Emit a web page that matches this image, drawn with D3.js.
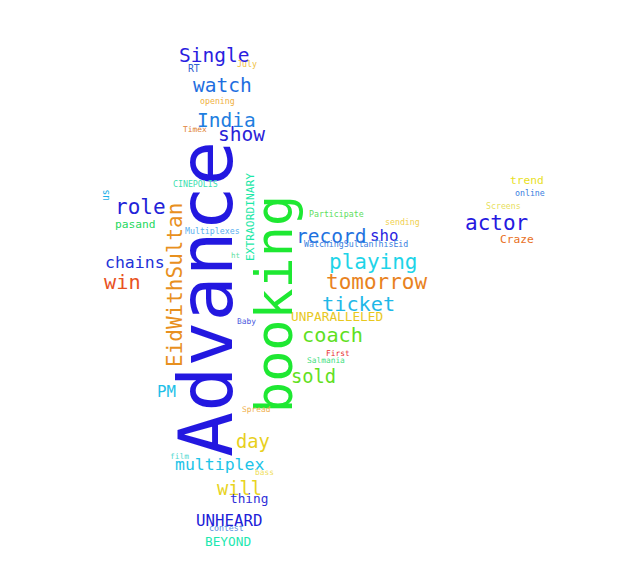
<!DOCTYPE html>
<html>
<head>
<meta charset="utf-8">
<script src="https://cdn.jsdelivr.net/npm/d3@7"></script>
<style>
  body { margin: 0; background: #fff; }
  svg text { font-family: "DejaVu Sans Mono", monospace; }
</style>
</head>
<body>
<svg id="cloud"></svg>
<script>
// words and their weights (word counts)
var words = ["Advance", "booking", "EidWithSultan", "role", "playing", "tomorrow", "actor", "ticket",
  "coach", "win", "Single", "watch", "India", "show", "record", "sold", "day", "will",
  "chains", "multiplex", "UNHEARD", "PM", "sho", "BEYOND", "UNPARALLELED", "thing",
  "EXTRAORDINARY", "pasand", "trend", "Craze", "us", "RT", "online", "WatchingSultanThisEid",
  "Participate", "opening", "sending", "Screens", "contest", "Multiplexes", "Baby", "Spread",
  "First", "Salmania", "CINEPOLIS", "July", "Timex", "film", "bass", "ht"];
var counts = [100, 69, 28, 28, 28, 28, 28, 27,
  27, 27, 26, 26, 26, 26, 26, 25, 25, 25,
  22, 22, 21, 21, 21, 17, 17, 17,
  15, 15, 15, 15, 13, 13, 11, 11,
  11, 11, 11, 11, 11, 11, 10.5, 10.5,
  10.5, 10.5, 11, 11, 10.5, 10.5, 10.5, 10];
var vertical = ["Advance", "booking", "EidWithSultan", "EXTRAORDINARY", "us"];
var palette = ["#2318e0", "#1ee832", "#e8901e", "#2222d8", "#1ed4e8", "#e8821e", "#2618e0", "#1eb8e8",
  "#5ee01e", "#e8521e", "#2a1ee0", "#1e6ee0", "#1e7ee0", "#2a22d8", "#1e72e0", "#62e01e", "#e8d01e", "#e8d41e",
  "#2232d8", "#1ec4e8", "#2020d8", "#1ec0e8", "#2a1ee0", "#1ee8b0", "#e8c81e", "#3030d8",
  "#1ee8a8", "#1ed860", "#e8e01e", "#e8701e", "#1eb0e8", "#3060d0", "#3a80e0", "#3a80e0",
  "#5ee05e", "#f0b040", "#f0d050", "#e8e060", "#5a90e0", "#5ab0f0", "#4a5ae0", "#f0b050",
  "#e83030", "#40e080", "#40e0b0", "#f0c040", "#e08030", "#50d8d0", "#f0e060", "#60e0a0"];

// layout of the cloud: start of each word's baseline, in cloud units
var layoutX = [232, 292, 182, 115, 329, 326, 465, 322,
  302, 104, 179, 193, 197, 218, 296, 291, 236, 217,
  105, 175, 196, 157, 370, 205, 291, 230,
  254, 115, 510, 500, 109, 188, 515, 304,
  309, 200, 385, 486, 209, 185, 237, 242,
  326, 307, 173, 237, 183, 170, 255, 231];
var layoutY = [457, 413, 367, 214, 269, 289, 230, 311,
  342, 289, 62, 92, 127, 141, 243, 383, 448, 495,
  268, 470, 526, 397, 241, 546, 321, 503,
  261, 228, 184, 243, 201, 72, 196, 247,
  217, 104, 225, 209, 531, 234, 324, 412,
  356, 363, 187, 67, 132, 459, 475, 258];

var width = 640, height = 587;
var svg = d3.select("#cloud").attr("width", width).attr("height", height);

var x = d3.scaleLinear().domain([0, 640]).range([0, width]);
var y = d3.scaleLinear().domain([0, 587]).range([0, height]);
var size = d3.scaleLinear().domain([0, 100]).range([0, 75]);
var color = d3.scaleOrdinal().domain(words).range(palette);

var data = words.map(function(w, i){
  return {text: w, count: counts[i], x: layoutX[i], y: layoutY[i], rotate: vertical.indexOf(w) !== -1 ? -90 : 0};
});

svg.selectAll("text")
  .data(data)
  .enter()
  .append("text")
  .text(function(d){ return d.text; })
  .attr("font-size", function(d){ return size(d.count) + "px"; })
  .attr("fill", function(d){ return color(d.text); })
  .attr("text-anchor", "start")
  .attr("transform", function(d){
    return "translate(" + x(d.x) + "," + y(d.y) + ") rotate(" + d.rotate + ")";
  });
</script>
</body>
</html>
